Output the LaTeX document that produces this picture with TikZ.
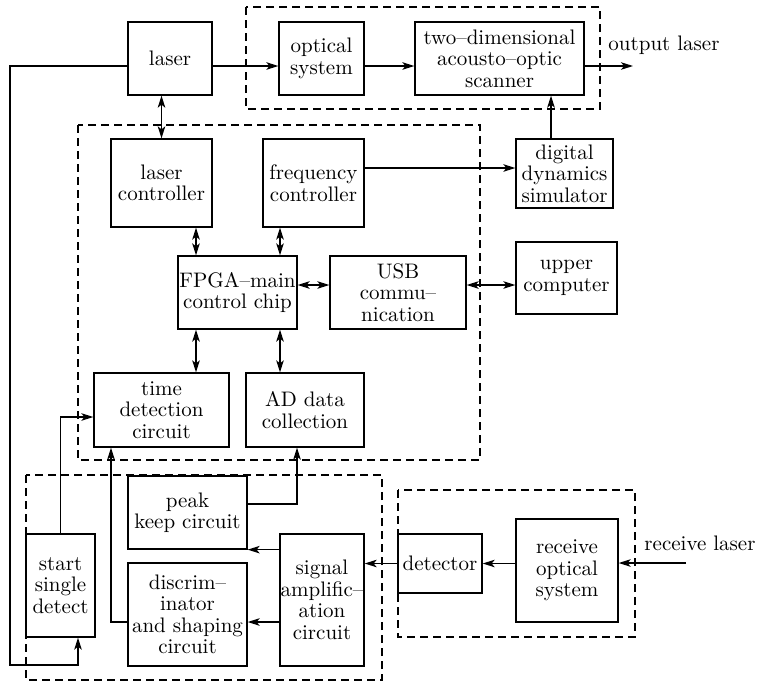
\documentclass[tikz,border=0pt]{standalone}
\usepackage{fontspec}
\setmainfont{lmroman10-regular.otf}
\usetikzlibrary{arrows.meta}
\begin{document}
\begin{tikzpicture}[x=1pt,y=-1pt,line width=1.3pt,
    blk/.style={draw,align=center,inner sep=0pt,font=\fontsize{21}{21.5}\selectfont},
    lbl/.style={align=center,font=\fontsize{21}{21.5}\selectfont},
    grp/.style={dash pattern=on 8pt off 5pt},
    >={Stealth[length=12pt,width=7.5pt,inset=3pt]}]
  \useasboundingbox (0,0) rectangle (759,683);
  \draw
    (170,58.5) node[blk,minimum width=84pt,minimum height=73pt] (laser){laser}
    (321.5,58.5) node[blk,minimum width=85pt,minimum height=73pt] (optic){optical\\system}
    (499.5,58.5) node[blk,minimum width=169pt,minimum height=73pt] (scanner){two--dimensional\\acousto--optic\\scanner}
    (161.5,183) node[blk,minimum width=101pt,minimum height=88pt] (lctrl){laser\\controller}
    (313.5,183) node[blk,minimum width=101pt,minimum height=88pt] (fctrl){frequency\\controller}
    (564.5,173.5) node[blk,minimum width=97pt,minimum height=69pt] (sim){digital\\dynamics\\simulator}
    (237.5,292.5) node[blk,minimum width=119pt,minimum height=73pt] (fpga){FPGA--main\\control chip}
    (398,292.5) node[blk,minimum width=136pt,minimum height=73pt] (usb){USB\\commu--\\nication}
    (566.5,278) node[blk,minimum width=101pt,minimum height=72pt] (upper){upper\\computer}
    (161.5,410) node[blk,minimum width=135pt,minimum height=74pt] (timed){time\\detection\\circuit}
    (305,410) node[blk,minimum width=118pt,minimum height=74pt] (adc){AD data\\collection}
    (60.5,585.5) node[blk,minimum width=69pt,minimum height=103pt] (startd){start\\single\\detect}
    (187.5,512.5) node[blk,minimum width=119pt,minimum height=73pt] (peak){peak\\keep circuit}
    (187.5,614.5) node[blk,minimum width=119pt,minimum height=103pt] (discr){discrim--\\inator\\and shaping\\circuit}
    (322,600) node[blk,inner xsep=-2pt,minimum width=84pt,minimum height=132pt] (sigamp){signal\\amplific--\\ation\\circuit}
    (440,563.5) node[blk,minimum width=84pt,minimum height=59pt] (detector){detector}
    (567,570.5) node[blk,minimum width=102pt,minimum height=103pt] (recopt){receive\\optical\\system}
    (664,45) node[lbl] (outlbl){output laser}
    (700,543) node[lbl] (reclbl){receive laser};
  % dashed groups
  \draw[grp] (246,7) rectangle (600,109);
  \draw[grp] (78,125) rectangle (480,460);
  \draw[grp] (26,475) rectangle (382,680);
  \draw[grp] (398,490) rectangle (635,637);
  % helper coordinates
  \coordinate (beam) at (0,66);
  \coordinate (outl) at (633,66);
  \coordinate (rin) at (686,563);
  \coordinate (fb) at (10,665);
  \coordinate (row1) at (0,285);
  \coordinate (row2) at (0,622);
  \coordinate (col1) at (196,0);
  \coordinate (col2) at (280,0);
  \coordinate (col3) at (111,0);
  \coordinate (col4) at (297,0);
  \coordinate (col5) at (78,0);
  \coordinate (col6) at (551,0);
  \begin{scope}[->]
    \draw (laser.east |- beam) to (optic.west |- beam);
    \draw (optic.east |- beam) to (scanner.west |- beam);
    \draw (scanner.east |- beam) to (outl);
    \draw ([yshift=15pt]fctrl.east) to ([yshift=15pt]fctrl.east -| sim.west);
    \draw (sim.north -| col6) to (scanner.south -| col6);
    \draw (laser.west |- beam) -| (fb) -| (startd.south -| col5);
    \draw (startd.north) |- ([yshift=-7pt]timed.west);
    \draw (sigamp.west |- peak.south) to (peak.south east);
    \draw (sigamp.west |- row2) to (discr.east |- row2);
    \draw (discr.west |- row2) -| (timed.south -| col3);
    \draw ([yshift=8.5pt]peak.east) -| (adc.south -| col4);
    \draw (detector.west) to (detector.west -| sigamp.east);
    \draw (recopt.west |- detector.west) to (detector.east);
    \draw (rin) to (recopt.east |- rin);
  \end{scope}
  \begin{scope}[<->]
    \draw (laser.south -| lctrl.north) to (lctrl.north);
    \draw (lctrl.south -| col1) to (fpga.north -| col1);
    \draw (fctrl.south -| col2) to (fpga.north -| col2);
    \draw (fpga.south -| col1) to (timed.north -| col1);
    \draw (fpga.south -| col2) to (adc.north -| col2);
    \draw (fpga.east |- row1) to (usb.west |- row1);
    \draw (usb.east |- row1) to (upper.west |- row1);
  \end{scope}
\end{tikzpicture}
\end{document}
